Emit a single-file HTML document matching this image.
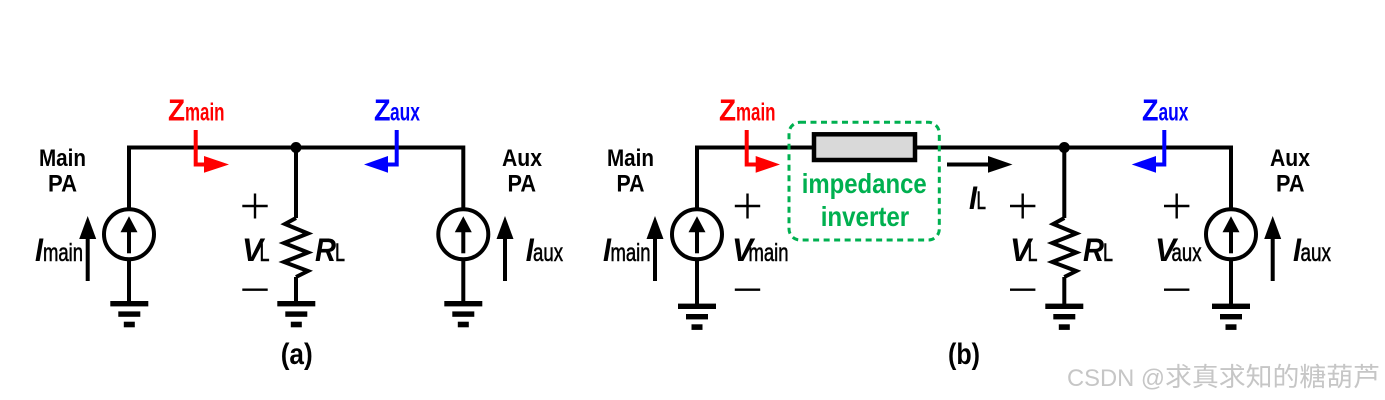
<!DOCTYPE html>
<html><head><meta charset="utf-8"><style>
html,body{margin:0;padding:0;background:#fff;width:1385px;height:400px;overflow:hidden}
svg{display:block;filter:blur(.35px)}
text{font-family:"Liberation Sans","Noto Sans CJK SC",sans-serif;font-weight:bold;fill:#000}
.i{font-style:italic;font-size:32px}
.s{font-size:25px;font-weight:normal;stroke:#000;stroke-width:.55px}
.p{font-size:24.500px}
.w{stroke:#000;stroke-width:4;fill:none;stroke-linejoin:miter}
.t{stroke:#000;stroke-width:2.4;fill:none}
.wm{font-weight:normal;fill:#c6c6c6}
</style></head><body>
<svg width="1385" height="400" viewBox="0 0 1385 400" xmlns="http://www.w3.org/2000/svg">
<defs>
<g id="gnd">
<rect x="-19" y="-2.700" width="38" height="5.400"/>
<rect x="-11" y="7.700" width="22" height="5.400"/>
<rect x="-5.500" y="18" width="11" height="5.600"/>
</g>
<g id="src">
<circle cx="0" cy="0" r="25" fill="#fff" stroke="#000" stroke-width="4"/>
<line x1="0" y1="19" x2="0" y2="-4" stroke="#000" stroke-width="4"/>
<polygon points="0,-18 8.500,-2 -8.500,-2"/>
</g>
<g id="cur">
<line x1="0" y1="0" x2="0" y2="-45" stroke="#000" stroke-width="4"/>
<polygon points="0,-65 8.500,-42 -8.500,-42"/>
</g>
<g id="pm">
<path class="t" d="M-12.700 0H12.700M0 -12.500V12.500"/>
<path class="t" d="M-12.700 83.700H12.700"/>
</g>
<path id="res" class="w" d="M0 218 L-11 224 L12 233.500 L-12 243 L12 252.500 L-12 262 L12 271 L0 277"/>
</defs>

<!-- (a) circuit -->
<path class="w" d="M129 234V147.500H463.300V234"/>
<path class="w" d="M296 147.500V218M296 277V304"/>
<circle cx="296" cy="147.500" r="5.500"/>
<use href="#res" x="296"/>
<path class="w" d="M129 260V304M463.300 260V304"/>
<use href="#gnd" x="129.300" y="303.700"/>
<use href="#gnd" x="296.300" y="303.700"/>
<use href="#gnd" x="463.300" y="303.700"/>
<use href="#src" x="129" y="234.300"/>
<use href="#src" x="463.300" y="234.300"/>
<use href="#cur" x="87.700" y="281"/>
<use href="#cur" x="505" y="281"/>
<use href="#pm" x="255" y="206"/>

<path d="M195.700 130V164.500H206" fill="none" stroke="#f00" stroke-width="4"/>
<polygon points="204,156 229,164.500 204,172.700" fill="#f00"/>
<path d="M396.700 130V164.500H386" fill="none" stroke="#00f" stroke-width="4"/>
<polygon points="388,156 364,164.500 388,172.700" fill="#00f"/>

<text x="168" y="120.700" font-size="31" textLength="17" lengthAdjust="spacingAndGlyphs" style="fill:#f00">Z</text>
<text x="185" y="120.700" font-size="25" textLength="39.500" lengthAdjust="spacingAndGlyphs" style="fill:#f00">main</text>
<text x="374" y="120.700" font-size="31" textLength="16.500" lengthAdjust="spacingAndGlyphs" style="fill:#00f">Z</text>
<text x="390" y="120.700" font-size="25" textLength="30" lengthAdjust="spacingAndGlyphs" style="fill:#00f">aux</text>

<text class="p" x="39" y="166" textLength="47" lengthAdjust="spacingAndGlyphs">Main</text>
<text class="p" x="48" y="191.700" textLength="29" lengthAdjust="spacingAndGlyphs">PA</text>
<text class="p" x="502" y="166" textLength="40" lengthAdjust="spacingAndGlyphs">Aux</text>
<text class="p" x="507.500" y="191.700" textLength="28.500" lengthAdjust="spacingAndGlyphs">PA</text>

<text class="i" x="35" y="261" textLength="8" lengthAdjust="spacingAndGlyphs">I</text>
<text class="s" x="43" y="261" textLength="40" lengthAdjust="spacingAndGlyphs">main</text>
<text class="i" x="525.700" y="261" textLength="8" lengthAdjust="spacingAndGlyphs">I</text>
<text class="s" x="533" y="261" textLength="30" lengthAdjust="spacingAndGlyphs">aux</text>
<text class="i" x="242" y="261" textLength="21" lengthAdjust="spacingAndGlyphs">V</text>
<text class="s" x="259.500" y="261" textLength="10" lengthAdjust="spacingAndGlyphs">L</text>
<text class="i" x="315" y="261" textLength="21" lengthAdjust="spacingAndGlyphs">R</text>
<text class="s" x="335" y="261" textLength="10" lengthAdjust="spacingAndGlyphs">L</text>
<text x="280.700" y="364" font-size="30" textLength="32" lengthAdjust="spacingAndGlyphs">(a)</text>

<!-- (b) circuit -->
<path class="w" d="M697 234V147.500H1231V234"/>
<path class="w" d="M1064.300 147.500V218M1064.300 277V306"/>
<circle cx="1064.300" cy="147.500" r="5.500"/>
<use href="#res" x="1064.300"/>
<path class="w" d="M697 260V306M1231 260V306"/>
<use href="#gnd" x="697" y="306.300"/>
<use href="#gnd" x="1064.300" y="306.300"/>
<use href="#gnd" x="1231" y="306.300"/>
<use href="#src" x="697" y="234.300"/>
<use href="#src" x="1231" y="234.300"/>
<use href="#cur" x="655" y="281"/>
<use href="#cur" x="1272.700" y="281"/>
<use href="#pm" x="747.500" y="206"/>
<use href="#pm" x="1022.700" y="206"/>
<use href="#pm" x="1176.700" y="206"/>

<rect x="814" y="134.300" width="101" height="25.700" fill="#d9d9d9" stroke="#000" stroke-width="4.500"/>
<rect x="789" y="122.300" width="150.300" height="117.700" rx="11" fill="none" stroke="#00b050" stroke-width="3" stroke-dasharray="6 4.500"/>
<text x="801.700" y="193" font-size="28" textLength="125" lengthAdjust="spacingAndGlyphs" style="fill:#00b050">impedance</text>
<text x="820.700" y="226" font-size="28" textLength="88.500" lengthAdjust="spacingAndGlyphs" style="fill:#00b050">inverter</text>

<path d="M746.700 130V164.500H757" fill="none" stroke="#f00" stroke-width="4"/>
<polygon points="755.700,156 780,164.500 755.700,172.700" fill="#f00"/>
<path d="M1164.300 130V164.500H1154" fill="none" stroke="#00f" stroke-width="4"/>
<polygon points="1156,156 1131.700,164.500 1156,172.700" fill="#00f"/>
<line x1="947" y1="164.500" x2="990" y2="164.500" stroke="#000" stroke-width="4"/>
<polygon points="988,156 1012.500,164.500 988,172.700"/>

<text x="719" y="120.700" font-size="31" textLength="17" lengthAdjust="spacingAndGlyphs" style="fill:#f00">Z</text>
<text x="736" y="120.700" font-size="25" textLength="39.500" lengthAdjust="spacingAndGlyphs" style="fill:#f00">main</text>
<text x="1142" y="120.700" font-size="31" textLength="16.500" lengthAdjust="spacingAndGlyphs" style="fill:#00f">Z</text>
<text x="1158.500" y="120.700" font-size="25" textLength="30" lengthAdjust="spacingAndGlyphs" style="fill:#00f">aux</text>

<text class="p" x="607" y="166" textLength="47" lengthAdjust="spacingAndGlyphs">Main</text>
<text class="p" x="616.500" y="191.700" textLength="28" lengthAdjust="spacingAndGlyphs">PA</text>
<text class="p" x="1270" y="166" textLength="40" lengthAdjust="spacingAndGlyphs">Aux</text>
<text class="p" x="1276" y="191.700" textLength="28.500" lengthAdjust="spacingAndGlyphs">PA</text>

<text class="i" x="603" y="261" textLength="8" lengthAdjust="spacingAndGlyphs">I</text>
<text class="s" x="610.500" y="261" textLength="40" lengthAdjust="spacingAndGlyphs">main</text>
<text class="i" x="732" y="261" textLength="21" lengthAdjust="spacingAndGlyphs">V</text>
<text class="s" x="748.500" y="261" textLength="40" lengthAdjust="spacingAndGlyphs">main</text>
<text class="i" x="969" y="209" textLength="8" lengthAdjust="spacingAndGlyphs">I</text>
<text class="s" x="976.500" y="209" textLength="9.500" lengthAdjust="spacingAndGlyphs">L</text>
<text class="i" x="1010" y="261" textLength="21" lengthAdjust="spacingAndGlyphs">V</text>
<text class="s" x="1027.500" y="261" textLength="10" lengthAdjust="spacingAndGlyphs">L</text>
<text class="i" x="1083" y="261" textLength="21" lengthAdjust="spacingAndGlyphs">R</text>
<text class="s" x="1103" y="261" textLength="10" lengthAdjust="spacingAndGlyphs">L</text>
<text class="i" x="1155" y="261" textLength="21" lengthAdjust="spacingAndGlyphs">V</text>
<text class="s" x="1171.500" y="261" textLength="30" lengthAdjust="spacingAndGlyphs">aux</text>
<text class="i" x="1293" y="261" textLength="8" lengthAdjust="spacingAndGlyphs">I</text>
<text class="s" x="1300.500" y="261" textLength="30.500" lengthAdjust="spacingAndGlyphs">aux</text>
<text x="948" y="364" font-size="30" textLength="32" lengthAdjust="spacingAndGlyphs">(b)</text>

<!-- watermark -->
<text class="wm" x="1067" y="386" font-size="24" textLength="98" lengthAdjust="spacingAndGlyphs">CSDN @</text>
<text class="wm" x="1165" y="386" font-size="26" textLength="215" lengthAdjust="spacingAndGlyphs">求真求知的糖葫芦</text>
</svg>
</body></html>
